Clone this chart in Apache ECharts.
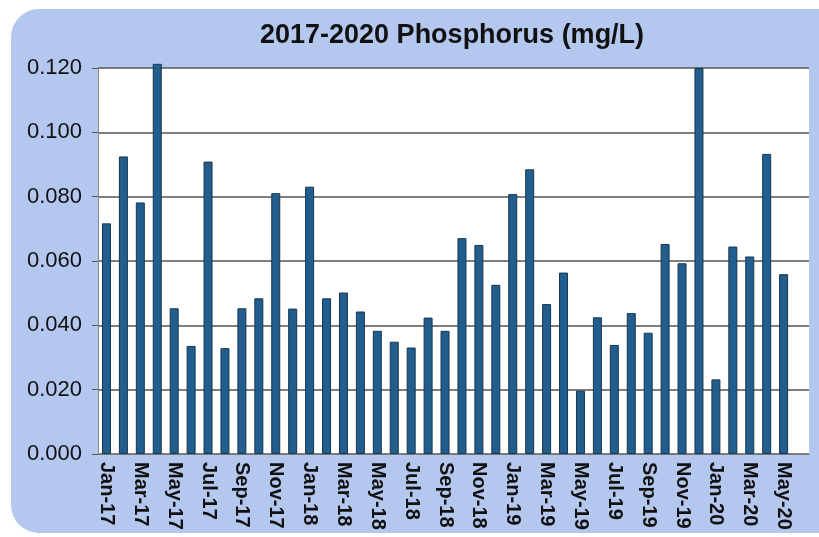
<!DOCTYPE html>
<html>
<head>
<meta charset="utf-8">
<script src="https://cdn.jsdelivr.net/npm/echarts@6/dist/echarts.min.js"></script>
<style>
  html, body { margin: 0; padding: 0; background: #fff; }
  #chart { width: 819px; height: 537px; }
</style>
</head>
<body>
<div id="chart"></div>
<script>
// months, Jan-17 .. Jun-20 (last one has no sample)
var months = ['Jan-17', 'Feb-17', 'Mar-17', 'Apr-17', 'May-17', 'Jun-17', 'Jul-17', 'Aug-17', 'Sep-17', 'Oct-17', 'Nov-17', 'Dec-17',
  'Jan-18', 'Feb-18', 'Mar-18', 'Apr-18', 'May-18', 'Jun-18', 'Jul-18', 'Aug-18', 'Sep-18', 'Oct-18', 'Nov-18', 'Dec-18',
  'Jan-19', 'Feb-19', 'Mar-19', 'Apr-19', 'May-19', 'Jun-19', 'Jul-19', 'Aug-19', 'Sep-19', 'Oct-19', 'Nov-19', 'Dec-19',
  'Jan-20', 'Feb-20', 'Mar-20', 'Apr-20', 'May-20', 'Jun-20']
var phosphorus = [0.0717, 0.0925, 0.0782, 0.1213, 0.0453, 0.0336, 0.0909, 0.0329, 0.0453, 0.0484, 0.0811, 0.0452,
  0.0831, 0.0484, 0.0502, 0.0443, 0.0383, 0.0349, 0.0331, 0.0424, 0.0383, 0.0671, 0.0650, 0.0526,
  0.0808, 0.0885, 0.0466, 0.0564, 0.0197, 0.0425, 0.0339, 0.0438, 0.0377, 0.0653, 0.0593, 0.1200,
  0.0232, 0.0645, 0.0614, 0.0933, 0.0559, null]
var yTicks = { min: 0, max: 0.12, step: 0.02 }

;(function () {
  var myChart = echarts.init(document.getElementById('chart'))
  var option = {
    backgroundColor: '#fff',
    animation: false,
    // light blue rounded panel behind the chart
    graphic: [
      {
        type: 'rect',
        z: -10,
        shape: { x: 11, y: 9, width: 840, height: 524, r: 28 },
        style: { fill: '#b4c7ee' }
      }
    ],
    title: {
      text: '2017-2020 Phosphorus (mg/L)',
      left: 255,
      top: 17,
      textStyle: {
        fontFamily: 'Liberation Sans, Arial, sans-serif',
        fontSize: 27,
        fontWeight: 'bold',
        color: '#111'
      }
    },
    grid: {
      left: 98,
      right: 10,
      top: 68,
      bottom: 83,
      show: true,
      backgroundColor: '#fff',
      borderWidth: 0
    },
    xAxis: {
      type: 'category',
      data: months,
      axisLine: { lineStyle: { color: '#777', width: 1 } },
      axisTick: {
        interval: 1,
        length: 5,
        lineStyle: { color: '#777' }
      },
      axisLabel: {
        interval: 1,
        rotate: -90,
        margin: 8,
        fontFamily: 'Liberation Sans, Arial, sans-serif',
        fontSize: 20,
        fontWeight: 'bold',
        color: '#111'
      }
    },
    yAxis: {
      type: 'value',
      min: yTicks.min,
      max: yTicks.max,
      interval: yTicks.step,
      axisLine: { show: true, lineStyle: { color: '#888', width: 1 } },
      axisTick: { show: true, length: 6, lineStyle: { color: '#555' } },
      axisLabel: {
        margin: 16,
        fontFamily: 'Liberation Sans, Arial, sans-serif',
        fontSize: 22,
        color: '#111',
        formatter: function (v) { return v.toFixed(3) }
      },
      splitLine: { lineStyle: { color: '#555', width: 1.5 } }
    },
    series: [
      {
        name: 'Phosphorus',
        type: 'bar',
        data: phosphorus,
        barWidth: 9,
        clip: false,
        itemStyle: {
          color: '#215e8e',
          borderColor: '#17364f',
          borderWidth: 1
        }
      }
    ]
  }
  myChart.setOption(option)
})()
</script>
</body>
</html>
